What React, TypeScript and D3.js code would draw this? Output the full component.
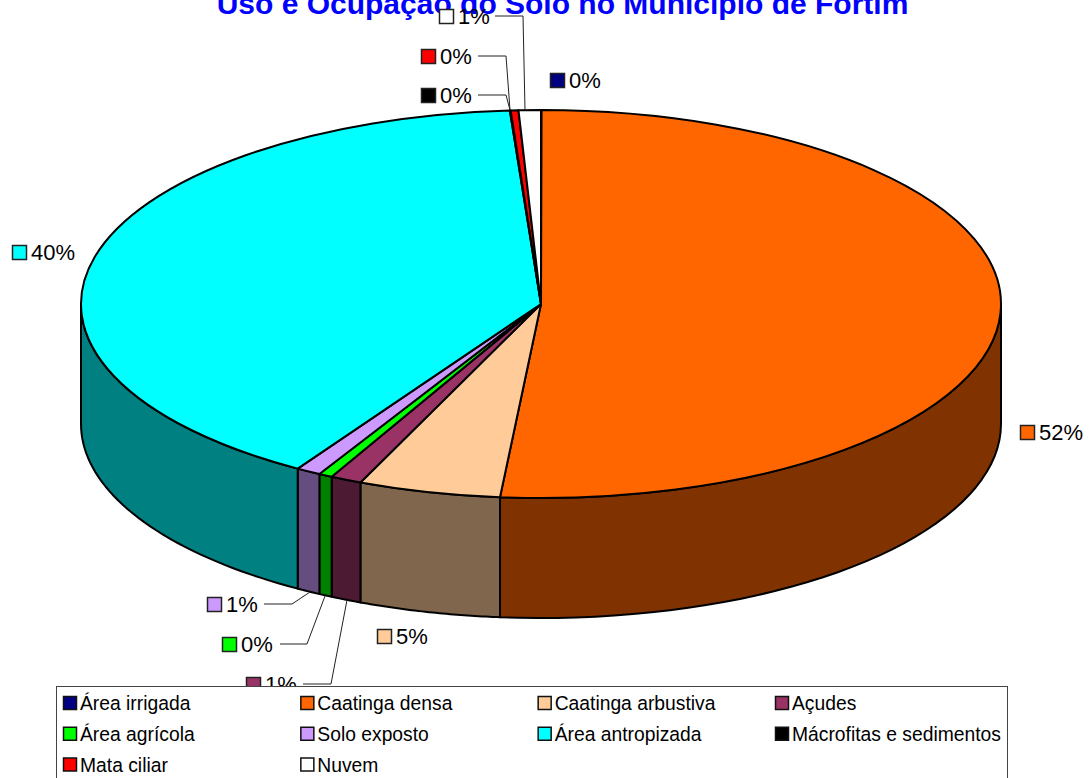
import React, { useEffect, useRef } from 'react';
import * as d3 from 'd3';

const title = 'Uso e Ocupação do Solo no Município de Fortim';

// percentages, pie order (clockwise from 12 o'clock)
const categories = ['Área irrigada', 'Caatinga densa', 'Caatinga arbustiva', 'Açudes', 'Área agrícola', 'Solo exposto', 'Área antropizada', 'Mácrofitas e sedimentos', 'Mata ciliar', 'Nuvem'];
const values = [0.02, 51.4, 5.0, 1.1, 0.48, 0.87, 40.05, 0.03, 0.27, 0.78];
const percentLabels = ['0%', '52%', '5%', '1%', '0%', '1%', '40%', '0%', '0%', '1%'];
const topColors = ['#000080', '#FF6600', '#FFCC99', '#993366', '#00FF00', '#CC99FF', '#00FFFF', '#000000', '#FF0000', '#FFFFFF'];
const sideColors = ['#000040', '#803300', '#80664D', '#4D1A33', '#008000', '#664D80', '#008080', '#000000', '#800000', '#808080'];

// where each data label sits: swatch corner, then optional leader polyline
const labelLayout: { x: number; y: number; leader?: [number, number][] }[] = [
    { x: 550, y: 73 },
    { x: 1020, y: 425 },
    { x: 377, y: 629 },
    { x: 246, y: 677, leader: [[303, 684], [331, 684], [347, 600]] },
    { x: 222, y: 637, leader: [[280, 644], [307, 644], [325, 596]] },
    { x: 207, y: 597, leader: [[264, 604], [292, 604], [310, 592]] },
    { x: 12, y: 245 },
    { x: 421, y: 88, leader: [[478, 95], [506, 95], [510, 110]] },
    { x: 421, y: 49, leader: [[478, 56], [506, 56], [510, 110]] },
    { x: 439, y: 9, leader: [[495, 16], [523, 16], [525, 110]] },
];

const App = () => {
    const svgRef = useRef<SVGSVGElement>(null);

    useEffect(() => {
        const svg = d3.select(svgRef.current);
        svg.selectAll('*').remove();

        const cx = 541;
        const cy = 304;
        const rx = 460;
        const ry = 194;
        const depth = 120;
        const font = '"Liberation Sans", Arial, sans-serif';

        svg.append('text')
            .attr('x', 562.5)
            .attr('y', 14)
            .attr('text-anchor', 'middle')
            .attr('font-family', font)
            .attr('font-size', 30)
            .attr('font-weight', 'bold')
            .attr('fill', '#0000FF')
            .text(title);

        const pie = d3.pie<number>().sort(null).value(d => d);
        const arcs = pie(values).map((a, i) => ({ ...a, i }));

        const px = (t: number) => cx + rx * Math.sin(t);
        const py = (t: number) => cy - ry * Math.cos(t);
        const line = d3.line<[number, number]>();

        // wall of the disc, only the part facing the viewer
        const front0 = Math.PI / 2;
        const front1 = (3 * Math.PI) / 2;
        arcs.forEach(a => {
            const t0 = Math.max(a.startAngle, front0);
            const t1 = Math.min(a.endAngle, front1);
            if (t1 <= t0) return;
            const ts = d3.range(0, 41).map(k => t0 + ((t1 - t0) * k) / 40);
            const upper = ts.map(t => [px(t), py(t)] as [number, number]);
            const lower = ts.slice().reverse().map(t => [px(t), py(t) + depth] as [number, number]);
            svg.append('path')
                .attr('d', line([...upper, ...lower]) + 'Z')
                .attr('fill', sideColors[a.i])
                .attr('stroke', '#000')
                .attr('stroke-width', 2)
                .attr('stroke-linejoin', 'round');
        });

        // top face: circular arcs squashed into an ellipse
        const arc = d3.arc<any>().innerRadius(0).outerRadius(rx);
        svg.append('g')
            .attr('transform', `translate(${cx},${cy}) scale(1,${ry / rx})`)
            .selectAll('path')
            .data(arcs)
            .enter()
            .append('path')
            .attr('d', d => arc(d))
            .attr('fill', d => topColors[d.i])
            .attr('stroke', '#000')
            .attr('stroke-width', 2)
            .attr('stroke-linejoin', 'round')
            .attr('vector-effect', 'non-scaling-stroke');

        // data labels
        labelLayout.forEach((l, i) => {
            if (l.leader) {
                svg.append('path')
                    .attr('d', line(l.leader))
                    .attr('fill', 'none')
                    .attr('stroke', '#222')
                    .attr('stroke-width', 1);
            }
            svg.append('rect')
                .attr('x', l.x + 0.5)
                .attr('y', l.y + 0.5)
                .attr('width', 14)
                .attr('height', 14)
                .attr('fill', topColors[i])
                .attr('stroke', '#222')
                .attr('stroke-width', 1.5);
            svg.append('text')
                .attr('x', l.x + 19)
                .attr('y', l.y + 15)
                .attr('font-family', font)
                .attr('font-size', 22)
                .attr('fill', '#000')
                .text(percentLabels[i]);
        });

        // legend box covers the lowest label
        svg.append('rect')
            .attr('x', 56.5)
            .attr('y', 686.5)
            .attr('width', 951)
            .attr('height', 110)
            .attr('fill', '#fff')
            .attr('stroke', '#444')
            .attr('stroke-width', 1);

        const colX = d3.scalePoint<number>().domain([0, 1, 2, 3]).range([63, 775]);
        const rowY = d3.scalePoint<number>().domain([0, 1, 2]).range([703, 764.5]);
        categories.forEach((c, i) => {
            const x = colX(i % 4) as number;
            const y = rowY(Math.floor(i / 4)) as number;
            svg.append('rect')
                .attr('x', x + 0.5)
                .attr('y', y - 6.5)
                .attr('width', 13)
                .attr('height', 13)
                .attr('fill', topColors[i])
                .attr('stroke', '#111')
                .attr('stroke-width', 1.5);
            svg.append('text')
                .attr('x', x + 17)
                .attr('y', y + 7)
                .attr('font-family', font)
                .attr('font-size', 19.3)
                .attr('fill', '#000')
                .text(c);
        });
    }, []);

    return <svg ref={svgRef} width={1090} height={778} style={{ position: 'absolute', left: 0, top: 0, background: '#fff' }} />;
};

export default App;
